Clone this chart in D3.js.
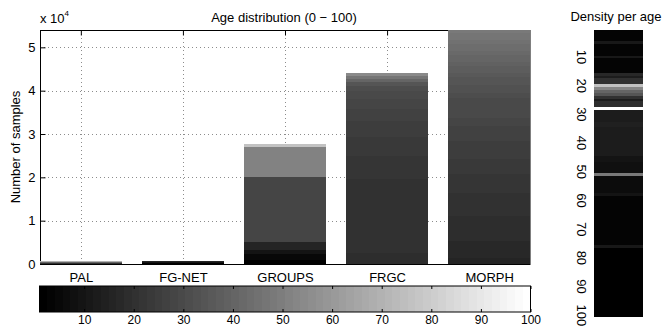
<!DOCTYPE html>
<html>
<head>
<meta charset="utf-8">
<script src="https://cdn.jsdelivr.net/npm/d3@7/dist/d3.min.js"></script>
<style>
  body { margin: 0; background: #fff; }
  text { font-family: "Liberation Sans", Arial, Helvetica, sans-serif; font-size: 13px; fill: #000; }
  .grid line { stroke: #8c8c8c; stroke-dasharray: 1,3; }
  .axis path { display: none; }
  .axis line { stroke: #000; }
  .cbar text { font-size: 12px; }
</style>
</head>
<body>
<svg id="chart" width="662" height="326"></svg>
<script>
var datasets = ["PAL", "FG-NET", "GROUPS", "FRGC", "MORPH"]

// [age, number of samples], stacked youngest first
var palAges = [[20, 220], [30, 110], [40, 90], [55, 100], [70, 130], [85, 150]]
var fgnetAges = [[2, 120], [5, 150], [10, 170], [15, 150], [20, 100], [30, 60], [45, 40]]
var groupsAges = [[1, 830], [5, 1550], [10, 920], [16, 1700], [28, 15000], [51, 6930], [76, 870]]
var frgcAges = [[19, 2550], [20, 16970], [22, 5390], [23, 4490], [25, 3610], [26, 2870], [28, 2310],
  [29, 1760], [31, 1160], [35, 790], [40, 760], [46, 620], [54, 760]]
var morphAges = [[16, 1390], [17, 1800], [18, 2060], [19, 5790], [20, 2800], [21, 2600], [22, 4240],
  [23, 1850], [24, 1780], [25, 4070], [26, 1750], [27, 1720], [28, 1940], [29, 2350], [30, 2280],
  [31, 1100], [32, 950], [33, 950], [34, 900], [35, 900], [36, 850], [37, 850], [38, 820], [39, 800],
  [40, 750], [41, 950], [42, 900], [43, 880], [44, 850], [45, 820], [46, 800], [47, 780], [48, 730]]

var yTicks = [0, 1, 2, 3, 4, 5]          // x 10^4
var cbarTicks = [10, 20, 30, 40, 50, 60, 70, 80, 90, 100]
var densityTicks = [10, 20, 30, 40, 50, 60, 70, 80, 90, 100]

// relative density for ages 1..100 (1 = white)
var densityPerAge = [
  .02, .02, .02, .02, .10, .02, .02, .02, .02, .10,
  .02, .02, .02, .02, .02, .165, .12, .19, .19, .75,
  .53, .40, .33, .20, .12, .18, .18, 1, .12, .11,
  .11, .11, .13, .13, .12, .12, .11, .11, .11, .11,
  .11, .11, .11, .11, .08, .08, .07, .07, .07, .07,
  .47, .05, .05, .05, .05, .05, .05, .09, .02, .02,
  .02, .02, .02, .02, .02, .02, .02, .02, .02, .02,
  .02, .02, .02, .02, .02, .10, .015, .015, .015, .015,
  .015, .015, .015, .015, .015, .015, .015, .015, .015, .015,
  .015, .015, .015, .015, .015, .015, .015, .015, .015, .015]

var svg = d3.select('#chart')

// matlab style gray(64)
var grays = d3.range(64).map(function (k) {
  var v = Math.round(k / 63 * 255)
  return d3.rgb(v, v, v).formatHex()
})
var ageColor = d3.scaleQuantize().domain([1, 100]).range(grays)
var densityColor = d3.scaleQuantize().domain([0, 1]).range(grays)

var x = d3.scaleLinear().domain([0.6, 5.4]).range([40, 530])
var y = d3.scaleLinear().domain([0, 54000]).range([264, 30])

// grid
svg.append('g').attr('class', 'grid')
  .selectAll('line.h').data(yTicks.slice(1)).enter().append('line')
  .attr('x1', 40).attr('x2', 530)
  .attr('y1', function (d) { return Math.round(y(d * 1e4)) + 0.5 })
  .attr('y2', function (d) { return Math.round(y(d * 1e4)) + 0.5 })
svg.select('.grid')
  .selectAll('line.v').data(d3.range(1, 6)).enter().append('line')
  .attr('y1', 30).attr('y2', 264)
  .attr('x1', function (d) { return Math.round(x(d)) + 0.5 })
  .attr('x2', function (d) { return Math.round(x(d)) + 0.5 })

// axes box
svg.append('rect')
  .attr('x', 40.5).attr('y', 30.5).attr('width', 489.5).attr('height', 234)
  .style('fill', 'none').style('stroke', '#000')

svg.append('g').attr('class', 'axis')
  .attr('transform', 'translate(40.5,0)')
  .call(d3.axisLeft(y).tickValues(yTicks.map(function (d) { return d * 1e4 }))
    .tickSize(-5).tickPadding(5).tickFormat(function (d) { return d / 1e4 }))
svg.append('g').attr('class', 'axis')
  .attr('transform', 'translate(529.5,0)')
  .call(d3.axisRight(y).tickValues(yTicks.map(function (d) { return d * 1e4 }))
    .tickSize(-5).tickFormat(''))
svg.append('g').attr('class', 'axis')
  .attr('transform', 'translate(0,30.5)')
  .call(d3.axisTop(x).tickValues(d3.range(1, 6)).tickSize(-5).tickFormat(''))

// stacked bars, one segment per age
var stacks = [palAges, fgnetAges, groupsAges, frgcAges, morphAges]
stacks.forEach(function (ages, i) {
  var tops = d3.cumsum(ages, function (d) { return d[1] })
  var segs = ages.map(function (d, j) {
    return { age: d[0], y0: j ? tops[j - 1] : 0, y1: tops[j] }
  })
  var x0 = Math.round(x(i + 1 - 0.4)), x1 = Math.round(x(i + 1 + 0.4))
  svg.append('g').selectAll('rect').data(segs).enter().append('rect')
    .attr('x', x0)
    .attr('width', x1 - x0)
    .attr('y', function (d) { return Math.round(y(d.y1)) })
    .attr('height', function (d) { return Math.round(y(d.y0)) - Math.round(y(d.y1)) })
    .style('fill', function (d) { return ageColor(d.age) })
    .style('shape-rendering', 'crispEdges')
})

// bottom axis with dataset names
svg.append('line').attr('x1', 40).attr('x2', 530).attr('y1', 264.5).attr('y2', 264.5)
  .style('stroke', '#000')
svg.append('g').attr('class', 'axis')
  .attr('transform', 'translate(0,264.5)')
  .call(d3.axisBottom(x).tickValues(d3.range(1, 6)).tickSize(0).tickPadding(8)
    .tickFormat(function (d) { return datasets[d - 1] }))

svg.append('text').attr('x', 284).attr('y', 22).style('text-anchor', 'middle')
  .text('Age distribution (0 \u2212 100)')
var mult = svg.append('text').attr('x', 40).attr('y', 23)
mult.append('tspan').text('x 10')
mult.append('tspan').attr('dy', -7).style('font-size', '8px').text('4')

svg.append('text')
  .attr('transform', 'translate(20,147) rotate(-90)')
  .style('text-anchor', 'middle')
  .text('Number of samples')

// colorbar
var cx = d3.scaleLinear().domain([1, 100]).range([39.5, 530.5])
svg.append('g').selectAll('rect').data(grays).enter().append('rect')
  .attr('x', function (d, k) { return Math.round(cx(1 + k * 99 / 64)) })
  .attr('width', function (d, k) { return Math.round(cx(1 + (k + 1) * 99 / 64)) - Math.round(cx(1 + k * 99 / 64)) })
  .attr('y', 286).attr('height', 26)
  .style('fill', function (d) { return d })
  .style('shape-rendering', 'crispEdges')
svg.append('g').attr('class', 'axis cbar')
  .attr('transform', 'translate(0,312)')
  .call(d3.axisBottom(cx).tickValues(cbarTicks).tickSize(-3).tickPadding(3))
svg.append('g').attr('class', 'axis')
  .attr('transform', 'translate(0,286)')
  .call(d3.axisTop(cx).tickValues(cbarTicks).tickSize(-3).tickFormat(''))
svg.append('rect')
  .attr('x', 39.5).attr('y', 286).attr('width', 491).attr('height', 26)
  .style('fill', 'none').style('stroke', '#000')

// density per age strip
var yd = d3.scaleLinear().domain([0.5, 100.5]).range([29.7, 316.7])
svg.append('g').selectAll('rect').data(densityPerAge).enter().append('rect')
  .attr('x', 594).attr('width', 49)
  .attr('y', function (d, i) { return Math.round(yd(i + 0.5)) })
  .attr('height', function (d, i) { return Math.round(yd(i + 1.5)) - Math.round(yd(i + 0.5)) })
  .style('fill', function (d) { return densityColor(d) })
  .style('shape-rendering', 'crispEdges')

svg.append('g').selectAll('text').data(densityTicks).enter().append('text')
  .attr('transform', function (d) { return 'translate(576.5,' + yd(d) + ') rotate(90)' })
  .style('text-anchor', 'middle')
  .text(function (d) { return d })

svg.append('text').attr('x', 616).attr('y', 20.5).style('text-anchor', 'middle')
  .text('Density per age')
</script>
</body>
</html>
